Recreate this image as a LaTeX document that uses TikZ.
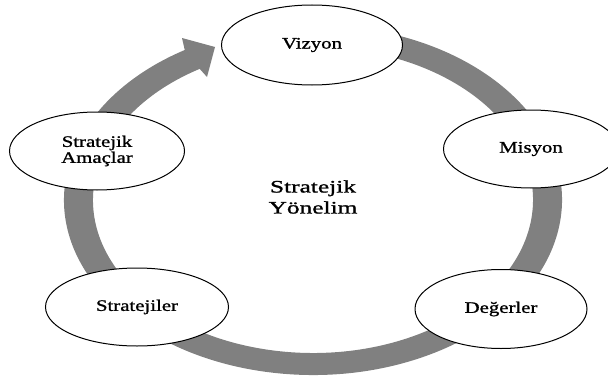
\documentclass[tikz,border=0pt]{standalone}
\usepackage{fontspec}
\setmainfont{Liberation Serif}
\newfontfamily\stagefont[FakeStretch=1.3, FakeBold=1.2]{Liberation Serif}
\newfontfamily\hubfont[FakeStretch=1.45, FakeBold=1.2]{Liberation Serif}
\usepackage{tikz}
\usetikzlibrary{shapes.geometric}
\definecolor{ringgray}{RGB}{128,128,128}

\begin{document}
\begin{tikzpicture}[x=1pt, y=1pt,
    stage/.style={draw, ellipse, fill=white, line width=1pt, inner sep=0pt,
        minimum width=#1, minimum height=78pt, align=center,
        font=\stagefont\fontsize{16}{16}\selectfont}]
    \useasboundingbox (0,0) rectangle (608,376);
    \coordinate (C) at (313,176);

    % ring with the head pointing at Vizyon
    \fill[ringgray] ([shift={(C)}]80:249pt and 175pt)
        arc[start angle=80, end angle=-239, x radius=249pt, y radius=175pt]
        -- (182,338) -- (215,329) -- (207,299)
        -- ([shift={(C)}]121:220pt and 153pt)
        arc[start angle=-239, end angle=80, x radius=220pt, y radius=153pt]
        -- cycle;

    \node[stage=181pt, minimum height=80pt] at (312,331) (vizyon)      {Vizyon};
    \node[stage=175pt]                      at (531,227) (misyon)      {Misyon};
    \node[stage=172pt, minimum height=79pt] at (501,67)  (degerler)    {Değerler};
    \node[stage=183pt]                      at (137,69)  (stratejiler) {Stratejiler};
    \node[stage=175pt]                      at (97,225)  (amaclar)     {Stratejik\\Amaçlar};

    \node[font=\hubfont\fontsize{17.5}{21}\selectfont, align=center] at (313,179) (yonelim) {Stratejik\\Yönelim};
\end{tikzpicture}
\end{document}
